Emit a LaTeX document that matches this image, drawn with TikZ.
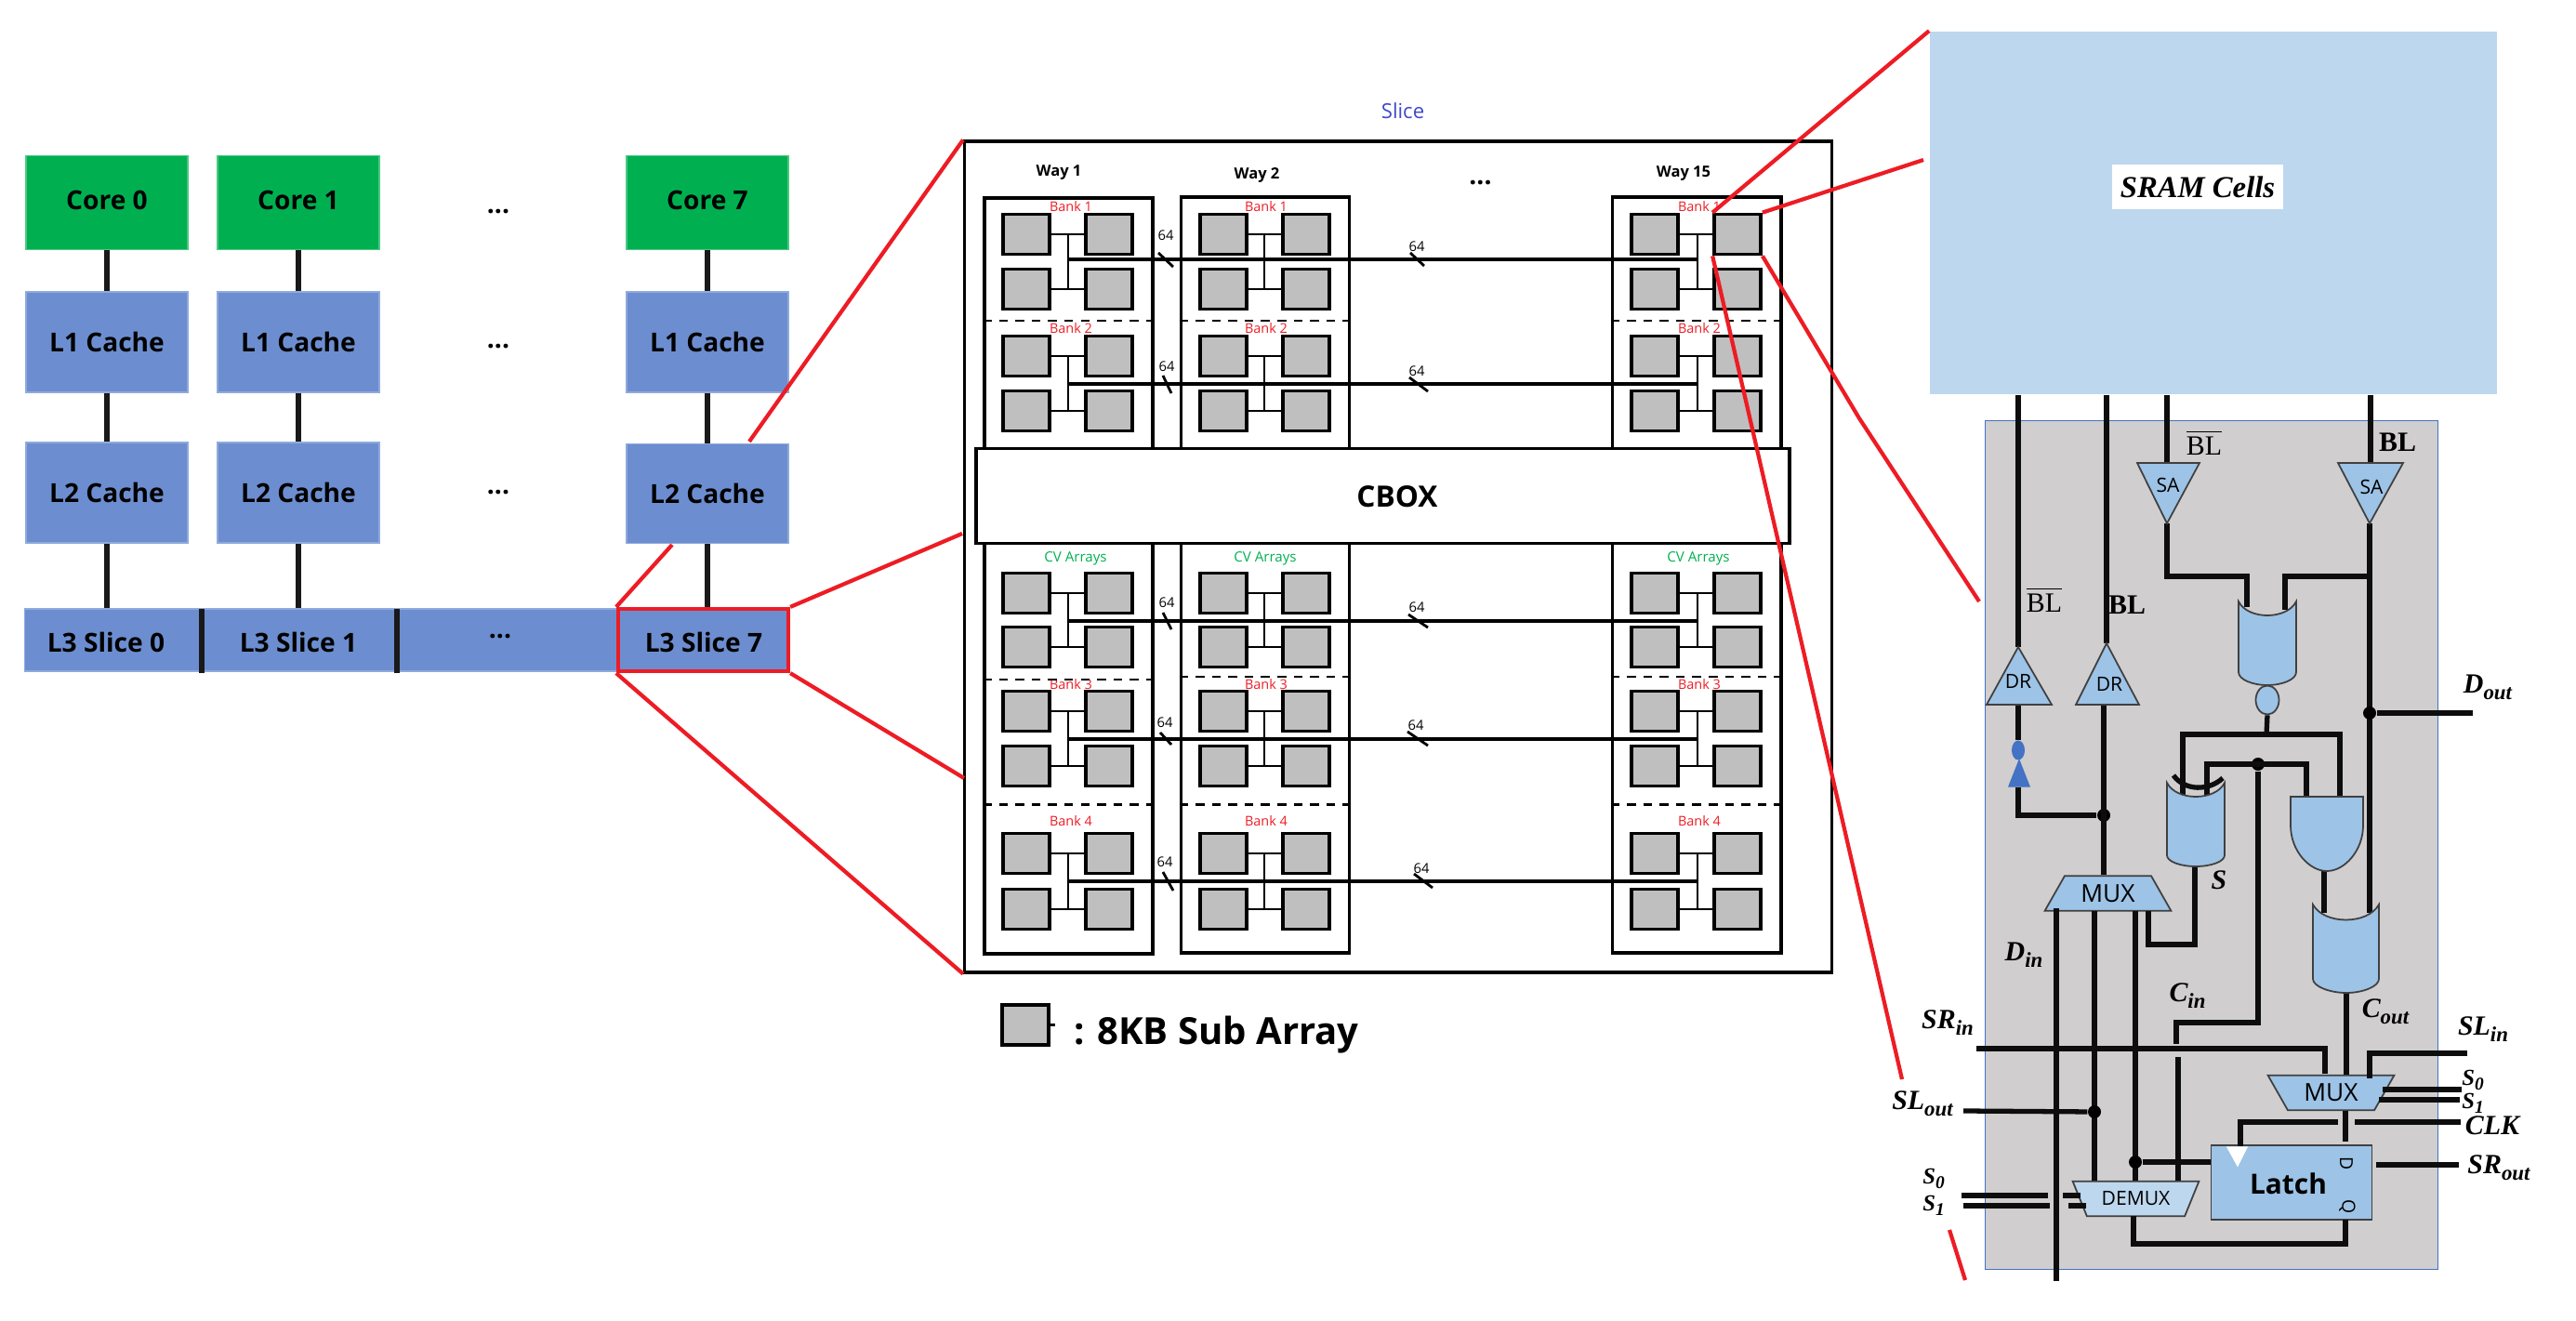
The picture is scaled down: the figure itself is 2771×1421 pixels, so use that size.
\documentclass[tikz,border=0pt]{standalone}
\usepackage{fontspec}
\usepackage{xcolor}
\usepackage{tikz}
\usetikzlibrary{shapes,positioning}
\setmainfont{Open Sans}
\newfontfamily\sigfont{Liberation Serif}
\definecolor{coregreen}{RGB}{0,176,80}
\definecolor{cacheblue}{RGB}{108,142,208}
\definecolor{cacheedge}{RGB}{143,170,220}
\definecolor{zoomred}{RGB}{237,28,36}
\definecolor{slicetext}{RGB}{63,72,204}
\definecolor{subgray}{RGB}{191,191,191}
\definecolor{sramblue}{RGB}{189,215,238}
\definecolor{gateblue}{RGB}{157,195,230}
\definecolor{panelgray}{RGB}{208,206,206}
\definecolor{paneledge}{RGB}{68,114,196}
\newcommand{\fs}[1]{\fontsize{#1}{#1}\selectfont}
\newcommand{\sigl}[2]{{\sigfont\bfseries\itshape\fs{8.5}#1\raisebox{-2pt}{\fs{6.5}#2}}}
\newcommand{\sigs}[2]{{\sigfont\bfseries\itshape\fs{7}#1\raisebox{-1.5pt}{\fs{5.5}#2}}}
\tikzstyle{coreblock} = [rectangle, minimum width=1.74cm, minimum height=1.01cm, text centered, text depth=1.5pt, fill=coregreen, draw=coregreen!70, font=\bfseries\fs{8}]
\tikzstyle{cacheblock} = [rectangle, minimum width=1.74cm, minimum height=1.08cm, text centered, fill=cacheblue, draw=cacheedge, font=\bfseries\fs{8}]
\tikzstyle{cachetext} = [inner sep=0pt, font=\bfseries\fs{8}]
\tikzstyle{linkline} = [line width=1.45pt, color=black!90]
\tikzstyle{zoomline} = [line width=1.2pt, color=zoomred]
\tikzstyle{waybox} = [rectangle, draw=black, line width=1.1pt, minimum width=1.81cm, minimum height=8.12cm]
\tikzstyle{subarray} = [rectangle, draw=black, fill=subgray, line width=1.05pt, minimum width=0.5cm, minimum height=0.43cm, inner sep=0pt]
\tikzstyle{rungline} = [line width=0.6pt, color=black]
\tikzstyle{busline} = [line width=1pt, color=black]
\tikzstyle{busslash} = [line width=0.8pt, color=black]
\tikzstyle{buslabel} = [inner sep=0pt, font=\fs{4.2}]
\tikzstyle{banktext} = [inner sep=0pt, text=zoomred, font=\fs{4.1}]
\tikzstyle{cvtext} = [inner sep=0pt, text=coregreen, font=\fs{4.3}]
\tikzstyle{waytext} = [inner sep=0pt, font=\bfseries\fs{4.7}]
\tikzstyle{bankdash} = [line width=0.85pt, dash pattern=on 2.7pt off 2.3pt]
\tikzstyle{wire} = [line width=1.5pt, color=black!95]
\tikzstyle{gateshape} = [draw=black!75, fill=gateblue, line width=0.5pt]
\tikzstyle{gatetext} = [inner sep=0pt, font=\fs{6}]
\tikzstyle{muxblock} = [trapezium, trapezium left angle=55, trapezium right angle=55, trapezium stretches=true, draw=black!75, fill=gateblue, line width=0.5pt, minimum width=1.36cm, minimum height=0.375cm, inner sep=0pt, font=\fs{7.5}]
\tikzstyle{junction} = [circle, fill=black, minimum size=0.14cm, inner sep=0pt]
\tikzstyle{siglabel} = [inner sep=0pt]

\begin{document}
\begin{tikzpicture}[x=0.01cm, y=-0.01cm]
\useasboundingbox (0,0) rectangle (2771,1421);

% Cores and private caches
\node (core0) [coreblock] at (115,218) {Core 0};
\node (core1) [coreblock] at (321,218) {Core 1};
\node (core7) [coreblock] at (761,218) {Core 7};
\node (l1a) [cacheblock] at (115,368) {L1 Cache};
\node (l1b) [cacheblock] at (321,368) {L1 Cache};
\node (l1h) [cacheblock] at (761,368) {L1 Cache};
\node (l2a) [cacheblock] at (115,530) {L2 Cache};
\node (l2b) [cacheblock] at (321,530) {L2 Cache};
\node (l2h) [cacheblock, minimum height=1.07cm] at (761,531) {L2 Cache};
\node (dotsa) [cachetext] at (536,228) {...};
\node (dotsb) [cachetext] at (536,373) {...};
\node (dotsc) [cachetext] at (536,530) {...};

% L3 slices
\node (l3bar) [cacheblock, minimum width=8.21cm, minimum height=0.67cm] at (437.5,688.5) {};
\node (l3a) [cachetext] at (114,691) {L3 Slice 0};
\node (l3b) [cachetext] at (321,691) {L3 Slice 1};
\node (l3c) [cachetext] at (538,685) {...};
\node (l3red) [rectangle, draw=zoomred, line width=1.2pt, minimum width=1.83cm, minimum height=0.67cm, inner sep=0pt] at (756.5,688.5) {};
\node (l3h) [cachetext] at (757,691) {L3 Slice 7};
\draw [linkline] (217,655) -- (217,724);
\draw [linkline] (427,655) -- (427,724);
\draw [linkline] (core0) -- (l1a);
\draw [linkline] (core1) -- (l1b);
\draw [linkline] (core7) -- (l1h);
\draw [linkline] (l1a) -- (l2a);
\draw [linkline] (l1b) -- (l2b);
\draw [linkline] (l1h) -- (l2h);
\draw [linkline] (l2a.south) -- (l2a.south |- l3bar.north);
\draw [linkline] (l2b.south) -- (l2b.south |- l3bar.north);
\draw [linkline] (l2h.south) -- (l2h.south |- l3red.north);

% Slice with its ways
\node (slicetitle) [inner sep=0pt, text=slicetext, font=\fs{6.3}] at (1509,119) {Slice};
\node (slice) [rectangle, draw=black, line width=1pt, minimum width=9.32cm, minimum height=8.93cm, inner sep=0pt] at (1504,599) {};
\node (way1) [waybox] at (1149.5,619.5) {};
\node (way2) [waybox] at (1361,618.5) {};
\node (way3) [waybox] at (1825,618.5) {};
\node (waya) [waytext] at (1139,186) {Way 1};
\node (wayb) [waytext] at (1352,188) {Way 2};
\node (wayc) [waytext] at (1811,187) {Way 15};
\node (waydots) [inner sep=0pt, font=\bfseries\fs{8}] at (1592.5,197) {...};

% Bank labels
\foreach \col/\x/\xcv in {a/1152/1157, b/1362/1361, c/1828/1827} {
  \node (bank\col1) [banktext] at (\x,222) {Bank 1};
  \node (bank\col2) [banktext] at (\x,353) {Bank 2};
  \node (cv\col) [cvtext] at (\xcv,601) {CV Arrays};
  \node (bank\col3) [banktext] at (\x,736) {Bank 3};
  \node (bank\col4) [banktext] at (\x,883) {Bank 4};
}

% Sub arrays of each way
\foreach \col/\xl/\xr/\xm in {a/1104/1193/1149, b/1316/1405/1360, c/1780/1869/1826} {
  \foreach \row/\yc in {1/252, 2/311, 3/383, 4/442, 5/638, 6/696, 7/765, 8/824, 9/918, 10/978} {
    \node (l\col\row) [subarray] at (\xl,\yc) {};
    \node (r\col\row) [subarray] at (\xr,\yc) {};
    \coordinate (m\col\row) at (\xm,\yc);
    \draw [rungline] (l\col\row.east) -- (r\col\row.west);
  }
  \foreach \up/\dn in {1/2, 3/4, 5/6, 7/8, 9/10}
    \draw [rungline] (m\col\up) -- (m\col\dn);
}
\foreach \up/\ybus in {1/279, 3/413, 5/668, 7/795, 9/948}
  \draw [busline] (ma\up |- 0,\ybus) -- (mc\up |- 0,\ybus);

% Bank separators
\foreach \w in {way1,way2,way3} {
  \draw [bankdash] (\w.west |- 0,345) -- (\w.east |- 0,345);
  \draw [bankdash] (\w.west |- 0,865) -- (\w.east |- 0,865);
}
\draw [bankdash] (way1.west |- 0,731) -- (way1.east |- 0,731);
\draw [bankdash, line width=0.5pt] (way2.west |- 0,728) -- (way2.east |- 0,728);
\draw [bankdash, line width=0.5pt] (way3.west |- 0,728) -- (way3.east |- 0,728);

% 64 bit buses
\foreach \tag/\lx/\ly/\ax/\ay/\bx/\by in {
  p/1254/253/1246/272/1262/287, q/1524/265/1517/272/1532/286,
  r/1255/394/1251/404/1260/423, s/1524/399/1516/406/1536/421,
  t/1255/648/1251/659/1260/677, u/1524/653/1515/661/1536/675,
  v/1253/777/1248/788/1260/801, w/1523/780/1514/787/1536/802,
  x/1253/927/1251/938/1262/958, y/1529/934/1521/940/1541/955} {
  \node (n\tag) [buslabel] at (\lx,\ly) {64};
  \draw [busslash] (\ax,\ay) -- (\bx,\by);
}

% CBOX and legend
\node (cbox) [rectangle, draw=black, fill=white, line width=1.1pt, minimum width=8.75cm, minimum height=1.02cm] at (1487.5,533.5) {};
\node (cboxtext) [inner sep=0pt, font=\bfseries\fs{9}] at (1503,534) {CBOX};
\node (legendcell) [subarray] at (1103,1102.5) {};
\draw [rungline] (legendcell.east) -- ++(5,0);
\node (legendtext) [right=0.245cm of legendcell, yshift=-0.11cm, inner sep=0pt, font=\bfseries\fs{11.4}] {: 8KB Sub Array};

% SRAM and peripheral panel
\node (panel) [rectangle, draw=paneledge, fill=panelgray, line width=0.4pt, minimum width=4.87cm, minimum height=9.12cm, inner sep=0pt] at (2379,909) {};
\node (sram) [rectangle, fill=sramblue, minimum width=6.1cm, minimum height=3.9cm, inner sep=0pt] at (2381,229) {};
\node (sramtag) [rectangle, fill=white, minimum width=1.83cm, minimum height=0.47cm, inner sep=0pt, font=\sigfont\bfseries\itshape\fs{9.3}] at (2364,201) {SRAM Cells};

% Named wire ends
\coordinate (sa1top) at (2331,498);
\coordinate (sa1tip) at (2331,563);
\coordinate (sa2top) at (2550,498);
\coordinate (sa2tip) at (2549,563);
\coordinate (dr1top) at (2171,696);
\coordinate (dr1base) at (2171,758);
\coordinate (dr2top) at (2266,692);
\coordinate (dr2base) at (2263,758);
\coordinate (invtop) at (2171,796);
\coordinate (invout) at (2171,847);
\coordinate (nor1) at (2417,653);
\coordinate (nor2) at (2458,656);
\coordinate (norbus) at (2438,790);
\coordinate (xorin1) at (2348,855);
\coordinate (xorin2) at (2374,855);
\coordinate (xorout) at (2361,932);
\coordinate (andin1) at (2481,857);
\coordinate (andin2) at (2517,857);
\coordinate (andout) at (2500,937);
\coordinate (orin1) at (2500,982);
\coordinate (orin2) at (2549,982);
\coordinate (orout) at (2524,1068);
\coordinate (senseout) at (2549,620);
\coordinate (doutend) at (2660,767);
\coordinate (cinbend) at (2341,1100);
\coordinate (cintop) at (2341,1123);
\coordinate (cinlow) at (2343,1137);
\coordinate (dinup) at (2212,977);
\coordinate (dindown) at (2212,1378);
\coordinate (m1a) at (2253,980);
\coordinate (m1b) at (2297,980);
\coordinate (m1c) at (2311,980);
\coordinate (srin) at (2126,1128);
\coordinate (srend) at (2501,1155);
\coordinate (slin) at (2654,1133);
\coordinate (slend) at (2549,1160);
\coordinate (slout) at (2112,1195);
\coordinate (latchd) at (2523,1228);
\coordinate (latchq) at (2523,1312);
\coordinate (demuxout) at (2295,1308);
\coordinate (clkin) at (2647,1207);
\coordinate (clkgapa) at (2533,1207);
\coordinate (clkgapb) at (2515,1207);
\coordinate (clktip) at (2410,1233);
\coordinate (srstart) at (2556,1253);
\coordinate (srout) at (2645,1253);

% Muxes and latch
\node (mux1) [muxblock] at (2267.5,961) {MUX\hspace{1.5pt}};
\node (mux2) [muxblock, shape border rotate=180] at (2507.5,1175.5) {MUX};
\node (demux) [muxblock, shape border rotate=180, fill=sramblue, font=\fs{6}] at (2297.5,1289.5) {DEMUX};
\node (latch) [rectangle, draw=black!75, fill=gateblue, line width=0.5pt, minimum width=1.73cm, minimum height=0.805cm, inner sep=0pt] at (2465,1272) {};
\node (latchtext) [inner sep=0pt, font=\bfseries\fs{8.5}] at (2461.5,1273) {Latch};
\node (latchdin) [inner sep=0pt, rotate=-90, font=\fs{5.5}] at (2524,1252) {D};
\node (latchqout) [inner sep=0pt, rotate=-90, font=\fs{5.5}] at (2525,1298) {Q};

% Bit lines and sense path
\draw [wire] (sram.south -| dr1top) -- (dr1top);
\draw [wire] (sram.south -| dr2top) -- (dr2top);
\draw [wire] (sram.south -| sa1top) -- (sa1top);
\draw [wire] (sram.south -| sa2top) -- (sa2top);
\draw [wire] (sa1tip) -- ++(0,57) -| (nor1);
\draw [wire] (sa2tip) -- (orin2);
\draw [wire] (senseout) -| (nor2);
\node (doutdot) [junction] at (2549,767) {};
\draw [wire] (doutdot) -- (doutend);
\node (norbubble) [ellipse, gateshape, minimum width=0.25cm, minimum height=0.31cm, inner sep=0pt] at (2439,753) {};
\draw [wire] (norbubble.south) -- (norbus);
\draw [wire] (xorin1) -- (xorin1 |- norbus) -- (andin2 |- norbus) -- (andin2);
\node (cdot) [junction] at (2429,822) {};
\draw [wire] (xorin2) -- (xorin2 |- cdot) -- (andin1 |- cdot) -- (andin1);
\draw [wire] (cdot) -- (cdot |- cinbend) -- (cinbend) -- (cintop);
\draw [wire] (cinlow) -- (cinlow |- demux.north);
\draw [wire] (xorout) -- ++(0,84) -| (m1c);
\draw [wire] (andout) -- (orin1);
\draw [wire] (orout) -- (orout |- mux2.north);

% Write path
\node (drdot) [junction] at (2263,877) {};
\draw [wire] (dr1base) -- (invtop);
\draw [wire] (invout) |- (drdot);
\draw [wire] (dr2base) -- (dr2base |- mux1.north);
\draw [wire] (dinup) -- (dindown);
\draw [wire] (m1a) -- (m1a |- demux.north);
\draw [wire] (m1b) -- (m1b |- demux.north);
\node (sldot) [junction] at (2253,1196) {};
\node (latchdot) [junction] at (2297,1250) {};
\draw [wire] (slout) -- (sldot);
\draw [wire] (latchdot) -- (latch.west |- latchdot);

% Shift register path
\draw [wire] (srin) -| (srend);
\draw [wire] (slin) -| (slend);
\draw [wire] (mux2.south -| latchd) -- (latchd);
\draw [wire] (clkin) -- (clkgapa);
\draw [wire] (clkgapb) -| (clktip);
\draw [wire] (srstart) -- (srout);
\draw [wire] (latchq) -- ++(0,26) -| (demuxout);
\draw [wire] (2563,1172) -- (2648,1172);
\draw [wire] (2559,1183) -- (2646,1183);
\draw [wire] (2110,1286) -- (2203,1286);
\draw [wire] (2219,1286) -- (2238,1286);
\draw [wire] (2112,1297) -- (2205,1297);
\draw [wire] (2225,1297) -- (2244,1297);
\draw [fill=white, draw=white] (2396,1234) -- (2417,1234) -- (2407,1254) -- cycle;

% Amplifiers, drivers and gates
\draw [gateshape] (2299,498) -- (2366,498) -- (sa1tip) -- cycle;
\draw [gateshape] (2515,498) -- (2585,498) -- (sa2tip) -- cycle;
\draw [gateshape] (2137,758) -- (2207,758) -- (dr1top) -- cycle;
\draw [gateshape] (2233,758) -- (2301,758) -- (dr2top) -- cycle;
\node (sa1) [gatetext] at (2332,522) {SA};
\node (sa2) [gatetext] at (2551,524) {SA};
\node (dr1) [gatetext] at (2171,733) {DR};
\node (dr2) [gatetext] at (2269,736) {DR};
\node (invbubble) [ellipse, fill=paneledge, minimum width=0.14cm, minimum height=0.21cm, inner sep=0pt] at (2171,807) {};
\draw [fill=paneledge, draw=paneledge] (2172,818) -- (2183,846) -- (2161,846) -- cycle;
\draw [gateshape] (2408,647) .. controls (2418,667) and (2460,667) .. (2470,647) -- (2470,723) .. controls (2470,731) and (2455,737) .. (2439,737) .. controls (2423,737) and (2408,731) .. (2408,723) -- cycle;
\draw [gateshape] (2331,842) .. controls (2341,862) and (2383,862) .. (2393,842) -- (2393,920) .. controls (2393,927) and (2378,932) .. (2362,932) .. controls (2346,932) and (2331,927) .. (2331,920) -- cycle;
\draw [wire] (2338,834) .. controls (2350,851) and (2376,851) .. (2391,837);
\draw [gateshape] (2464,857) -- (2542,857) -- (2542,888) .. controls (2542,915) and (2522,937) .. (2503,937) .. controls (2484,937) and (2464,915) .. (2464,888) -- cycle;
\draw [gateshape] (2488,973) .. controls (2500,995) and (2547,995) .. (2559,973) -- (2559,1053) .. controls (2559,1061) and (2542,1068) .. (2524,1068) .. controls (2506,1068) and (2488,1061) .. (2488,1053) -- cycle;

% Signal labels
\node (blbara) [siglabel] at (2371,476) {$\overline{\hbox{\sigfont\fs{8.5}BL}}$};
\node (bla) [siglabel, font=\sigfont\bfseries\fs{8.5}] at (2579,476) {BL};
\node (blbarb) [siglabel] at (2199,645) {$\overline{\hbox{\sigfont\fs{8.5}BL}}$};
\node (blb) [siglabel, font=\sigfont\bfseries\fs{8.5}] at (2288,651) {BL};
\node (doutlabel) [siglabel] at (2676,739) {\sigl{D}{out}};
\node (slabel) [siglabel, font=\sigfont\bfseries\itshape\fs{8.5}] at (2387,947) {S};
\node (dinlabel) [siglabel] at (2177,1027) {\sigl{D}{in}};
\node (cinlabel) [siglabel] at (2353,1071) {\sigl{C}{in}};
\node (coutlabel) [siglabel] at (2566,1088) {\sigl{C}{out}};
\node (srinlabel) [siglabel] at (2095,1100) {\sigl{SR}{in}};
\node (slinlabel) [siglabel] at (2671,1107) {\sigl{SL}{in}};
\node (sloutlabel) [siglabel] at (2068,1187) {\sigl{SL}{out}};
\node (clklabel) [siglabel, font=\sigfont\bfseries\itshape\fs{8.5}] at (2681,1211) {CLK};
\node (sroutlabel) [siglabel] at (2688,1256) {\sigl{SR}{out}};
\node (s0right) [siglabel] at (2660,1162) {\sigs{S}{0}};
\node (s1right) [siglabel] at (2660,1187) {\sigs{S}{1}};
\node (s0left) [siglabel] at (2080,1268) {\sigs{S}{0}};
\node (s1left) [siglabel] at (2080,1297) {\sigs{S}{1}};

% Zoom lines
\coordinate (hintl2) at (806,475);
\coordinate (hintl2low) at (723,586);
\coordinate (hintmid) at (1035,574);
\coordinate (hintlow) at (1037,837);
\coordinate (hintsram) at (2069,172);
\coordinate (hintbend) at (2000,450);
\coordinate (hintpanel) at (2129,647);
\coordinate (hintdown) at (2046,1161);
\coordinate (hinttaila) at (2097,1323);
\coordinate (hinttailb) at (2114,1377);
\draw [zoomline] (hintl2) -- (slice.north west);
\draw [zoomline] (hintl2low) -- (l3red.north west);
\draw [zoomline] (l3red.north east) -- (hintmid);
\draw [zoomline] (l3red.south west) -- (slice.south west);
\draw [zoomline] (l3red.south east) -- (hintlow);
\draw [zoomline] (rc1.north west) -- (sram.north west);
\draw [zoomline] (rc1.north east) -- (hintsram);
\draw [zoomline] (rc1.south east) -- (hintbend) -- (hintpanel);
\draw [zoomline] (rc1.south west) -- (hintdown);
\draw [zoomline] (hinttaila) -- (hinttailb);
\end{tikzpicture}
\end{document}
